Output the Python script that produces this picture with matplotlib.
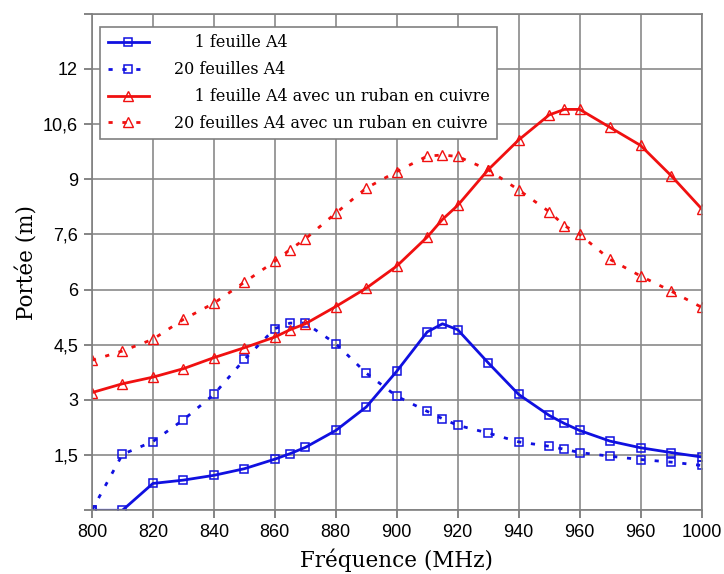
import numpy as np
import matplotlib
matplotlib.use("Agg")
import matplotlib.pyplot as plt

# frequences (MHz) des points de mesure
freq = [800, 810, 820, 830, 840, 850, 860, 865, 870, 880, 890, 900,
        910, 915, 920, 930, 940, 950, 955, 960, 970, 980, 990, 1000]

# portee (m)
une_feuille = [0.0, 0.0, 0.73, 0.82, 0.95, 1.13, 1.39, 1.54, 1.71, 2.17, 2.81, 3.78,
               4.85, 5.07, 4.91, 4.01, 3.15, 2.58, 2.36, 2.17, 1.88, 1.70, 1.57, 1.45]
vingt_feuilles = [0.0, 1.52, 1.87, 2.46, 3.15, 4.10, 4.94, 5.09, 5.09, 4.53, 3.73, 3.10,
                  2.69, 2.49, 2.31, 2.10, 1.86, 1.74, 1.66, 1.57, 1.47, 1.38, 1.31, 1.22]
une_feuille_cuivre = [3.20, 3.44, 3.62, 3.85, 4.15, 4.42, 4.71, 4.91, 5.07, 5.54, 6.04, 6.64,
                      7.43, 7.91, 8.29, 9.26, 10.07, 10.75, 10.90, 10.90, 10.41, 9.92, 9.10, 8.20]
vingt_feuilles_cuivre = [4.08, 4.33, 4.65, 5.19, 5.63, 6.20, 6.77, 7.09, 7.38, 8.08, 8.76, 9.21,
                         9.63, 9.66, 9.62, 9.26, 8.71, 8.12, 7.74, 7.50, 6.82, 6.37, 5.96, 5.52]

xticks = [800, 820, 840, 860, 880, 900, 920, 940, 960, 980, 1000]
xlabels = ['800', '820', '840', '860', '880', '900', '920', '940', '960', '960', '1000']
yticks = [0, 1.5, 3, 4.5, 6, 7.5, 9, 10.5, 12, 13.5]
ylabels = ['', '1,5', '3', '4,5', '6', '7,6', '9', '10,6', '12', '']

fig = plt.figure(figsize=(7.24, 5.74), dpi=100)
ax = fig.add_axes([0.127, 0.111, 0.842, 0.865])

dots = (0, (1.5, 3.5))
ax.plot(freq, une_feuille, color='#1010e0', lw=2, marker='s', ms=5.5,
        mfc='none', mec='#1010e0', mew=1.1, label='    1 feuille A4')
ax.plot(freq, vingt_feuilles, color='#1010e0', lw=2, ls=dots, marker='s', ms=5.5,
        mfc='none', mec='#1010e0', mew=1.1, label='20 feuilles A4')
ax.plot(freq, une_feuille_cuivre, color='#f01010', lw=2, marker='^', ms=6.5,
        mfc='none', mec='#f01010', mew=1.0, label='    1 feuille A4 avec un ruban en cuivre')
ax.plot(freq, vingt_feuilles_cuivre, color='#f01010', lw=2, ls=dots, marker='^', ms=6.5,
        mfc='none', mec='#f01010', mew=1.0, label='20 feuilles A4 avec un ruban en cuivre')

ax.set_xlim(800, 1000)
ax.set_ylim(0, 13.5)
ax.set_xticks(xticks)
ax.set_xticklabels(xlabels, family='Liberation Sans', fontsize=13)
ax.set_yticks(yticks)
ax.set_yticklabels(ylabels, family='Liberation Sans', fontsize=13)
ax.tick_params(direction='out', length=6, width=1.2, color='#707070', pad=4)
ax.grid(True, color='#8a8a8a', lw=1.2)
ax.set_axisbelow(True)
for s in ax.spines.values():
    s.set_color('#808080')
    s.set_linewidth(1.2)

ax.set_xlabel('Fréquence (MHz)', family='DejaVu Serif', fontsize=15.5, labelpad=5)
ax.set_ylabel('Portée (m)', family='DejaVu Serif', fontsize=15.5, labelpad=3)

leg = ax.legend(loc='upper left', bbox_to_anchor=(0.014, 0.973), prop={'family': 'DejaVu Serif', 'size': 11.5},
                handlelength=2.6, fancybox=False, framealpha=1, edgecolor='#808080',
                borderpad=0.45, labelspacing=0.62, handletextpad=1.55, borderaxespad=0)
leg.get_frame().set_linewidth(1.2)

fig.savefig('out.png', dpi=100)
